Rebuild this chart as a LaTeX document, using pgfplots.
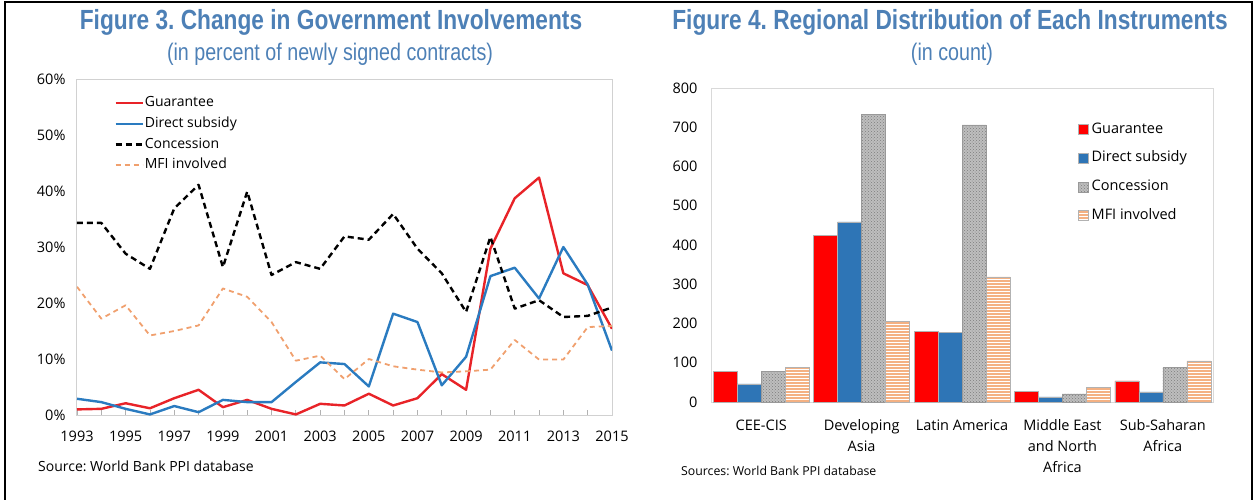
\documentclass[border=0pt]{standalone}
\usepackage{pgfplots}
\pgfplotsset{compat=1.18}
\usepackage{fontspec}
\setmainfont{Open Sans}
\newfontfamily\titlefont[FakeStretch=0.82]{Liberation Sans}
\usetikzlibrary{patterns}
\frenchspacing
\definecolor{titleblue}{RGB}{77,128,182}
\definecolor{gred}{RGB}{232,35,40}
\definecolor{gblue}{RGB}{42,123,192}
\definecolor{morange}{RGB}{240,160,110}
\definecolor{bred}{RGB}{255,0,0}
\definecolor{bblue}{RGB}{46,117,182}
\definecolor{bgray}{RGB}{190,190,190}
\definecolor{bdots}{RGB}{125,125,125}
\definecolor{borange}{RGB}{244,177,131}
\begin{document}
\begin{tikzpicture}[x=1pt,y=1pt]
\useasboundingbox (0,0) rectangle (1258,499);
\draw[line width=2pt] (5,-3) -- (5,497) -- (1252,497) -- (1252,-3);
% titles
\node[anchor=base, text=titleblue, font=\titlefont\bfseries\fontsize{27.7}{30}\selectfont, inner sep=0pt] at (331,469) {Figure 3. Change in Government Involvements};
\node[anchor=base, text=titleblue, font=\titlefont\fontsize{24}{28}\selectfont, inner sep=0pt] at (330,438) {(in percent of newly signed contracts)};
\node[anchor=base, text=titleblue, font=\titlefont\bfseries\fontsize{27.7}{30}\selectfont, inner sep=0pt] at (950,469) {Figure 4. Regional Distribution of Each Instruments};
\node[anchor=base, text=titleblue, font=\titlefont\fontsize{24}{28}\selectfont, inner sep=0pt] at (952,438) {(in count)};
% sources
\node[anchor=base west, inner sep=0pt, font=\fontsize{14}{16}\selectfont] at (38,28) {Source: World Bank PPI database};
\node[anchor=base west, inner sep=0pt, font=\fontsize{12.3}{14}\selectfont] at (681,24) {Sources: World Bank PPI database};

\begin{axis}[
  at={(77pt,84pt)}, anchor=south west, scale only axis,
  width=535pt, height=336pt,
  xmin=1993, xmax=2015, ymin=0, ymax=60,
  axis line style={draw=black!18, line width=1pt},
  xtick={1993,1995,...,2015},
  xticklabels={1993,1995,1997,1999,2001,2003,2005,2007,2009,2011,2013,2015},
  minor xtick={1994,1996,...,2014},
  xtick pos=bottom, tick align=inside,
  major tick length=5pt, minor tick length=5pt,
  every tick/.style={draw=black!30, line width=0.8pt},
  ytick={0,10,...,60},
  yticklabels={0\%,10\%,20\%,30\%,40\%,50\%,60\%},
  ytick style={draw=none},
  xticklabel style={font=\fontsize{14.5}{17}\selectfont, yshift=-12pt},
  yticklabel style={font=\fontsize{14.5}{17}\selectfont, xshift=-8pt},
  legend cell align=left,
  legend image code/.code={\draw[#1] (0pt,0pt) -- (27pt,0pt);},
  legend style={at={(0.064,0.957)}, anchor=north west, draw=none, fill=none,
    font=\fontsize{14}{16}\selectfont, row sep=5.7pt,
    nodes={inner sep=1pt, text height=10pt, text depth=3pt}},
  every axis plot/.append style={line join=round},
]
\addplot[gred, line width=2.4pt] coordinates {
(1993,1.0)(1994,1.1)(1995,2.1)(1996,1.2)(1997,3.0)(1998,4.5)(1999,1.4)(2000,2.7)(2001,1.1)(2002,0.1)(2003,2.0)(2004,1.7)(2005,3.8)(2006,1.7)(2007,3.0)(2008,7.3)(2009,4.5)(2010,29.7)(2011,38.7)(2012,42.4)(2013,25.3)(2014,23.2)(2015,15.4)};
\addlegendentry{Guarantee}
\addplot[gblue, line width=2.4pt] coordinates {
(1993,2.9)(1994,2.3)(1995,1.1)(1996,0.1)(1997,1.6)(1998,0.5)(1999,2.7)(2000,2.3)(2001,2.3)(2002,5.9)(2003,9.4)(2004,9.1)(2005,5.1)(2006,18.1)(2007,16.6)(2008,5.3)(2009,10.4)(2010,24.8)(2011,26.3)(2012,20.8)(2013,30.0)(2014,23.3)(2015,11.5)};
\addlegendentry{Direct subsidy}
\addplot[black, line width=2.4pt, dash pattern=on 6pt off 4pt] coordinates {
(1993,34.3)(1994,34.3)(1995,28.8)(1996,26.1)(1997,36.9)(1998,41.1)(1999,26.4)(2000,39.9)(2001,25.0)(2002,27.3)(2003,26.1)(2004,31.9)(2005,31.3)(2006,35.9)(2007,29.7)(2008,25.3)(2009,18.4)(2010,31.8)(2011,19.0)(2012,20.5)(2013,17.5)(2014,17.7)(2015,19.2)};
\addlegendentry{Concession}
\addplot[morange, line width=1.8pt, dash pattern=on 5pt off 4pt] coordinates {
(1993,22.9)(1994,17.2)(1995,19.6)(1996,14.2)(1997,15.0)(1998,16.0)(1999,22.6)(2000,21.1)(2001,16.6)(2002,9.7)(2003,10.6)(2004,6.4)(2005,10.0)(2006,8.7)(2007,8.1)(2008,7.6)(2009,7.8)(2010,8.1)(2011,13.4)(2012,9.9)(2013,9.9)(2014,15.7)(2015,15.9)};
\addlegendentry{MFI involved}
\end{axis}

\begin{axis}[
  at={(711pt,97pt)}, anchor=south west, scale only axis,
  width=502pt, height=314pt,
  xmin=-0.5, xmax=4.5, ymin=0, ymax=800,
  axis line style={draw=black!15, line width=1pt},
  ybar=0pt, bar width=24pt,
  xtick={0,1,2,3,4},
  xticklabels={CEE-CIS, Developing\\Asia, Latin America, Middle East\\and North\\Africa, Sub-Saharan\\Africa},
  xticklabel style={align=center, font=\fontsize{14.5}{21}\selectfont, yshift=-10pt},
  ytick={0,100,...,800},
  /pgf/number format/assume math mode=true,
  yticklabel style={font=\fontsize{14.5}{17}\selectfont, xshift=-10pt},
  xtick style={draw=none}, ytick style={draw=none},
  legend cell align=left,
  legend image code/.code={\draw[#1, line width=0.5pt] (0pt,-5pt) rectangle (10pt,5pt);},
  legend style={at={(0.725,0.9)}, anchor=north west, draw=none, fill=none,
    font=\fontsize{14.5}{17}\selectfont, row sep=12.7pt,
    nodes={inner ysep=1.5pt, inner xsep=3pt, text height=10pt, text depth=3pt}},
]
\addplot[fill=bred, draw=black!30, line width=0.5pt] coordinates {(0,78)(1,425)(2,179)(3,27)(4,54)};
\addlegendentry{Guarantee}
\addplot[fill=bblue, draw=black!30, line width=0.5pt] coordinates {(0,46)(1,459)(2,177)(3,13)(4,26)};
\addlegendentry{Direct subsidy}
\addplot[fill=bgray, draw=black!40, line width=0.5pt, postaction={pattern=crosshatch dots, pattern color=bdots}] coordinates {(0,78)(1,732)(2,706)(3,21)(4,88)};
\addlegendentry{Concession}
\addplot[fill=borange, draw=black!30, line width=0.5pt, postaction={pattern=horizontal lines, pattern color=white}] coordinates {(0,88)(1,206)(2,319)(3,38)(4,105)};
\addlegendentry{MFI involved}
\end{axis}
\end{tikzpicture}
\end{document}
